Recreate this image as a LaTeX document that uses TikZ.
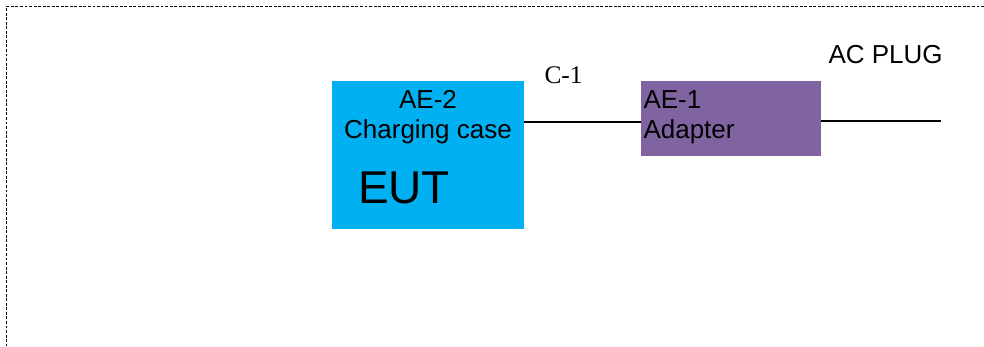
\documentclass[tikz,border=0pt]{standalone}
\usepackage{fontspec}
\setmainfont{Liberation Sans}
\newfontfamily\serifrm{Liberation Serif}
\usetikzlibrary{positioning, calc}
\definecolor{caseCyan}{RGB}{0, 176, 240}
\definecolor{adapterPurple}{RGB}{128, 100, 162}
\newcommand{\lCase}{AE-2\\Charging case}
\newcommand{\lEut}{EUT}
\newcommand{\lAdapter}{AE-1\\Adapter}
\newcommand{\lCable}{C-1}
\newcommand{\lPlug}{AC PLUG}

\begin{document}
\begin{tikzpicture} [
        x=0.75pt, y=-0.75pt,
        font=\fontsize{19.5}{22.5}\selectfont,
        unit/.style={draw=none, inner sep=0, outer sep=0},
        lbl/.style={inner sep=0, outer sep=0},
        frame/.style={line width=1.4pt, dash pattern=on 2.2pt off 1.2pt},
        wire/.style={line width=1.2pt}
    ]

    \useasboundingbox (0,0) rectangle (984,346);

    % outer dotted frame (right and bottom sides fall outside)
    \draw[frame] (984,6.5) -- (6.5,6.5) -- (6.5,346);

    \node[unit, fill=caseCyan, minimum width=144pt, minimum height=111pt] (case) at (428,155) {};
    \node[unit, fill=adapterPurple, minimum width=135pt, minimum height=56.25pt, anchor=north west] (adapter) at (641,81) {};

    \node[lbl, align=center, anchor=north] (case txt) at (case.north|-0,90.7) {\lCase};
    \node[lbl, anchor=base west, font=\fontsize{34.5}{40}\selectfont] (eut txt) at (358,203.3) {\lEut};
    \node[lbl, align=left, anchor=north west] (adapter txt) at (643.5,90.5) {\lAdapter};

    \coordinate (case port) at ($ (case.north east)!.277!(case.south east) $);
    \coordinate (plug) at (941,121);

    \draw[wire] (case port) -- (adapter.west|-case port);
    \draw[wire] (adapter.east|-plug) -- (plug);

    \node[lbl, anchor=base west, font=\serifrm\fontsize{19}{22}\selectfont] (cable) at (544.5,84) {\lCable};
    \node[lbl, anchor=base west] (plug txt) at (828.5,63.3) {\lPlug};

\end{tikzpicture}
\end{document}
